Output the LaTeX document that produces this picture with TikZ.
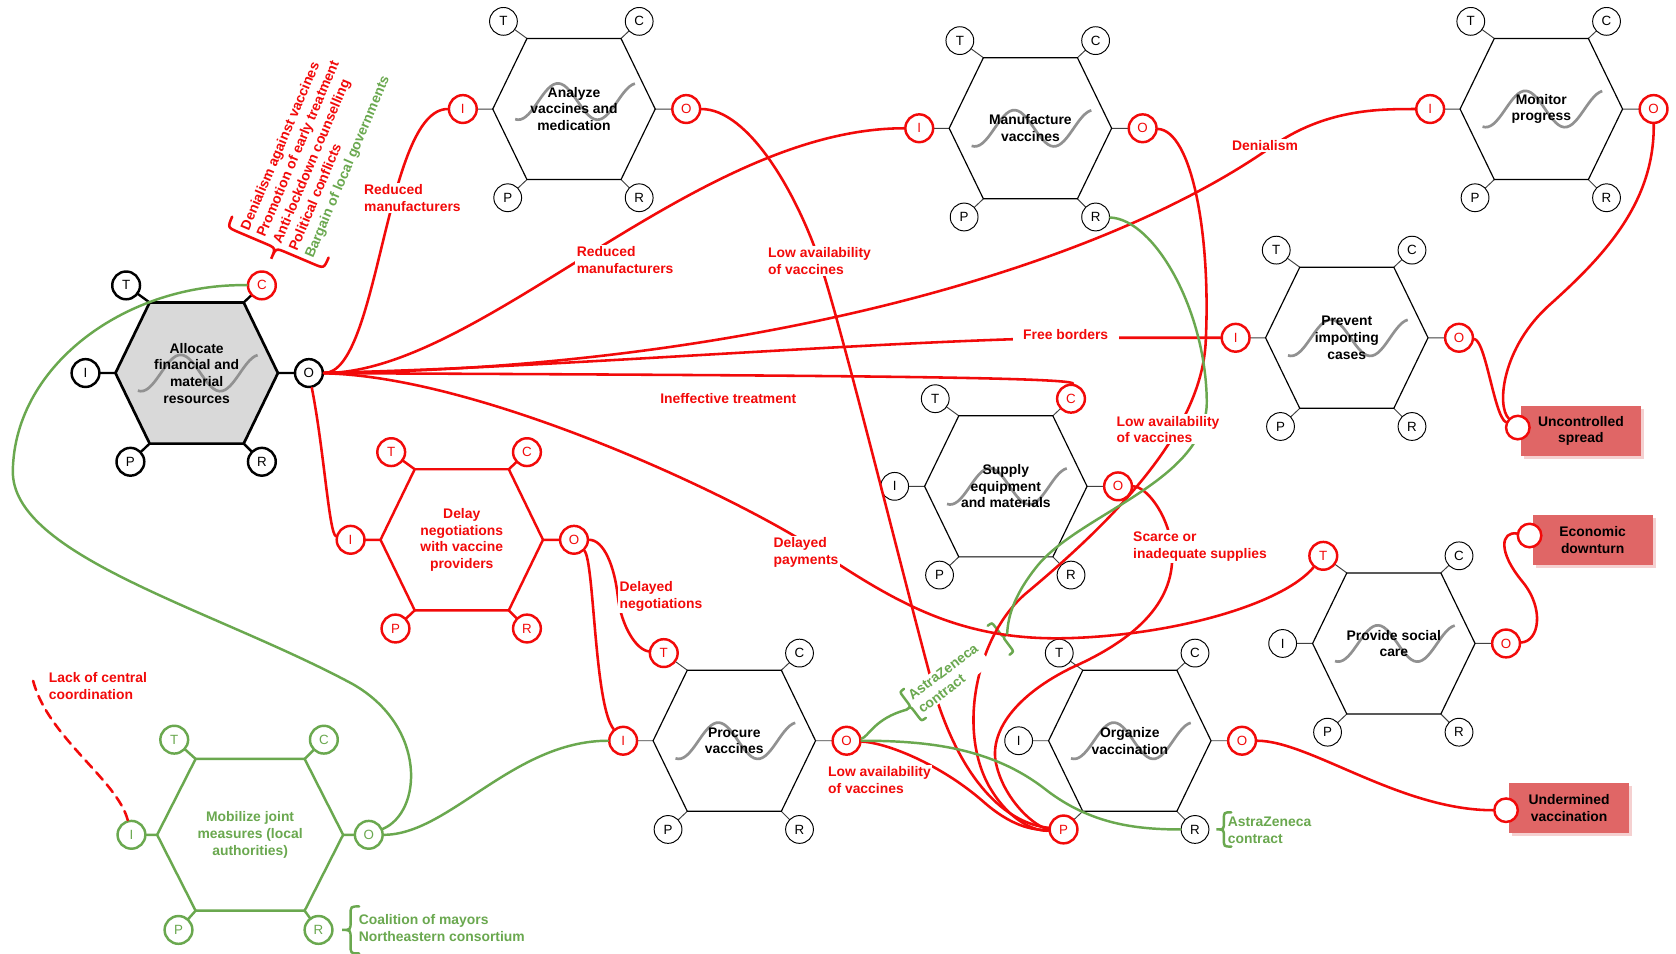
\documentclass[tikz,border=0pt]{standalone}
\usepackage{fontspec}
\setmainfont{Liberation Sans}
\usetikzlibrary{shadows}
\definecolor{fred}{RGB}{242,10,10}
\definecolor{fgreen}{RGB}{106,168,79}
\definecolor{boxred}{RGB}{224,102,102}
\definecolor{hexgrey}{RGB}{217,217,217}
\definecolor{wavegrey}{RGB}{145,145,145}
\def\FRdefault{\def\FRhw{76}\def\FRht{44}\def\FRhh{66}\def\FRtx{-66}\def\FRty{-82}\def\FRcx{61}\def\FRix{-104}\def\FRox{105}\def\FRpx{-62}\def\FRpy{83}\def\FRrx{61}}
\FRdefault
\newcommand\fhex[4]{%
 \begin{scope}[shift={(#2,#3)}]
  \draw[stub, #1-stub/.try] (-\FRht,-\FRhh) -- (\FRtx,\FRty) (\FRht,-\FRhh) -- (\FRcx,\FRty)
    (-\FRhw,0) -- (\FRix,0) (\FRhw,0) -- (\FRox,0) (-\FRht,\FRhh) -- (\FRpx,\FRpy) (\FRht,\FRhh) -- (\FRrx,\FRpy);
  \draw[hexline, #1-hex/.try] (-\FRhw,0) -- (-\FRht,-\FRhh) -- (\FRht,-\FRhh) -- (\FRhw,0) -- (\FRht,\FRhh) -- (-\FRht,\FRhh) -- cycle;
  \draw[wave, #1-wave/.try] plot[domain=-55:57, samples=45, smooth] (\x,{-17*sin((\x+15)*4.865+90)});
  \node[hextext, #1-text/.try] (#1) at (0,0) {#4};
  \node[asp, #1-asp/.try, #1-T/.try] (#1-T) at (\FRtx,\FRty) {T};
  \node[asp, #1-asp/.try, #1-C/.try] (#1-C) at (\FRcx,\FRty) {C};
  \node[asp, #1-asp/.try, #1-I/.try] (#1-I) at (\FRix,0) {I};
  \node[asp, #1-asp/.try, #1-O/.try] (#1-O) at (\FRox,0) {O};
  \node[asp, #1-asp/.try, #1-P/.try] (#1-P) at (\FRpx,\FRpy) {P};
  \node[asp, #1-asp/.try, #1-R/.try] (#1-R) at (\FRrx,\FRpy) {R};
 \end{scope}}
\newcommand\drawbrace[5]{\draw[#5] ({#1+(#4)},{#2-#3}) .. controls ({#1},{#2-#3}) .. ({#1},{#2-#3+abs(#4)}) -- ({#1},{#2-abs(#4)}) .. controls ({#1},{#2}) .. ({#1-(#4)},{#2}) .. controls ({#1},{#2}) .. ({#1},{#2+abs(#4)}) -- ({#1},{#2+#3-abs(#4)}) .. controls ({#1},{#2+#3}) .. ({#1+(#4)},{#2+#3});}
\begin{document}
\begin{tikzpicture}[x=1pt,y=-1pt,
  stub/.style={draw=black!75, line width=0.9pt},
  hexline/.style={draw=black, line width=1.1pt, line join=miter},
  wave/.style={draw=wavegrey, line width=2.5pt},
  hextext/.style={font=\bfseries\fontsize{13}{15.6}\selectfont, align=center, text=black},
  asp/.style={circle, draw=black, line width=0.9pt, fill=white, minimum size=26pt, inner sep=0pt, font=\fontsize{12.5}{14}\selectfont},
  redasp/.style={draw=fred, line width=2.3pt, text=fred},
  lbl/.style={font=\bfseries\fontsize{13}{15.6}\selectfont, text=fred, align=left, inner sep=1.5pt},
  wlbl/.style={lbl, fill=white},
  glbl/.style={lbl, text=fgreen},
  rline/.style={draw=fred, line width=2.4pt, line cap=round},
  gline/.style={draw=fgreen, line width=2.3pt, line cap=round},
  outbox/.style={rectangle, fill=boxred, minimum width=112pt, minimum height=47pt, align=center, font=\bfseries\fontsize{13}{15.6}\selectfont, drop shadow={shadow xshift=3pt, shadow yshift=-3pt, opacity=0.3, fill=boxred}},
  outcirc/.style={circle, draw=fred, line width=2.3pt, fill=white, minimum size=22pt, inner sep=0pt},
  al-hex/.style={fill=hexgrey, line width=2.5pt},
  al-stub/.style={draw=black, line width=2.2pt},
  al-asp/.style={line width=2.3pt},
  al-C/.style={redasp},
  an-I/.style={redasp}, an-O/.style={redasp}, an-wave/.style={yshift=7pt},
  mf-I/.style={redasp}, mf-O/.style={redasp},
  mo-I/.style={redasp}, mo-O/.style={redasp},
  pr-I/.style={redasp}, pr-O/.style={redasp},
  dl-hex/.style={draw=fred, line width=2.3pt}, dl-stub/.style={draw=fred, line width=2.3pt},
  dl-asp/.style={redasp}, dl-wave/.style={draw=none}, dl-text/.style={text=fred},
  su-C/.style={redasp}, su-O/.style={redasp},
  ps-T/.style={redasp}, ps-O/.style={redasp},
  pc-T/.style={redasp}, pc-I/.style={redasp}, pc-O/.style={redasp},
  ov-P/.style={redasp}, ov-O/.style={redasp},
  mj-hex/.style={draw=fgreen, line width=2.3pt}, mj-stub/.style={draw=fgreen, line width=2.3pt},
  mj-asp/.style={draw=fgreen, line width=2.3pt, text=fgreen}, mj-wave/.style={draw=none}, mj-text/.style={text=fgreen}
]
\fill[white] (0,0) rectangle (1568,892);
\useasboundingbox (0,0) rectangle (1568,892);

% ---------- functions ----------
\fhex{al}{184}{349}{Allocate\\financial and\\material\\resources}
\fhex{an}{537}{102}{Analyze\\vaccines and\\medication}
\fhex{mf}{964}{120}{Manufacture\\vaccines}
\fhex{mo}{1442}{102}{Monitor\\progress}
\fhex{pr}{1260}{316}{Prevent\\importing\\cases}
\fhex{dl}{432}{505}{Delay\\negotiations\\with vaccine\\providers}
\fhex{su}{941}{455}{Supply\\equipment\\and materials}
\fhex{ps}{1304}{602}{Provide social\\care}
\fhex{pc}{687}{693}{Procure\\vaccines}
\fhex{ov}{1057}{693}{Organize\\vaccination}
{\def\FRhw{87}\def\FRht{51}\def\FRhh{71}\def\FRtx{-71}\def\FRty{-89}\def\FRcx{69}\def\FRix{-111}\def\FRox{111}\def\FRpx{-67}\def\FRpy{89}\def\FRrx{64}%
\fhex{mj}{234}{781}{Mobilize joint\\measures (local\\authorities)}}

% ---------- outcomes ----------
\node[outbox] (us) at (1479,403) {Uncontrolled\\spread};
\node[outcirc] (us-c) at (1420,400) {};
\node[outbox] (ed) at (1490,505) {Economic\\downturn};
\node[outcirc] (ed-c) at (1431,501) {};
\node[outbox] (uv) at (1468,756) {Undermined\\vaccination};
\node[outcirc] (uv-c) at (1409,758) {};

% ---------- braces with texts ----------
\begin{scope}[shift={(258,232)}, rotate=67]
 \drawbrace{0}{0}{49}{11}{rline}
 \node[lbl, anchor=west, rotate=67, font=\bfseries\fontsize{13}{16.3}\selectfont] (ctx) at (3,0) {Denialism against vaccines\\Promotion of early treatment\\Anti-lockdown counselling\\Political conflicts\\\textcolor{fgreen}{Bargain of local governments}};
\end{scope}
\begin{scope}[shift={(852,661)}, rotate=37]
 \drawbrace{0}{0}{17}{5}{gline}
 \coordinate (az1) at (-5,0);
 \drawbrace{108}{0}{17}{-5}{gline}
 \coordinate (az2) at (113,0);
\end{scope}
\drawbrace{328}{870}{22}{8}{gline}
\drawbrace{1145}{776}{16}{7}{gline}

% ---------- couplings ----------
\draw[rline] (al-O) .. controls (355,349) and (360,102) .. (an-I);
\draw[rline] (al-O) .. controls (450,349) and (650,120) .. (mf-I);
\draw[rline] (al-O) .. controls (700,345) and (1030,250) .. (1190,137) .. controls (1240,102) and (1290,102) .. (mo-I);
\draw[rline] (al-O) .. controls (500,345) and (800,320) .. (997,316) -- (pr-I);
\draw[rline] (al-O) .. controls (700,351) and (1005,352) .. (su-C);
\draw[rline] (al-O) .. controls (450,352) and (690,465) .. (765,515) .. controls (840,565) and (900,600) .. (1000,597) .. controls (1100,594) and (1200,565) .. (ps-T);
\draw[rline] (al-O) .. controls (303,420) and (308,500) .. (dl-I);
\draw[rline] (an-O) .. controls (700,102) and (745,180) .. (767,245) .. controls (790,315) and (850,560) .. (875,650) .. controls (900,730) and (940,770) .. (ov-P);
\draw[rline] (dl-O) .. controls (565,505) and (575,530) .. (578,558) .. controls (581,585) and (595,608) .. (pc-T);
\draw[rline] (dl-O) .. controls (556,525) and (556,660) .. (pc-I);
\draw[gline] (mj-O) .. controls (420,781) and (480,693) .. (pc-I);
\draw[gline] (mj-O) .. controls (395,760) and (400,680) .. (330,640) .. controls (200,570) and (10,520) .. (12,440) .. controls (14,340) and (120,265) .. (al-C);
\draw[rline] (mf-O) .. controls (1115,122) and (1133,220) .. (1128,320) .. controls (1124,400) and (1050,480) .. (960,555) .. controls (915,593) and (895,680) .. (925,735) .. controls (945,770) and (970,778) .. (ov-P);
\draw[rline] (su-O) .. controls (1072,455) and (1092,480) .. (1096,510) .. controls (1101,550) and (1080,590) .. (1004,624) .. controls (950,650) and (925,685) .. (932,715) .. controls (940,750) and (970,775) .. (ov-P);
\draw[rline] (pc-O) .. controls (830,695) and (880,715) .. (920,750) .. controls (945,772) and (965,777) .. (ov-P);
\draw[gline] (pc-O) .. controls (870,693) and (930,700) .. (980,740) .. controls (1020,770) and (1060,776) .. (ov-R);
\draw[gline] (pc-O) .. controls (812,690) and (818,672) .. (az1);
\draw[gline] (mf-R) .. controls (1080,205) and (1128,290) .. (1129,375) .. controls (1130,450) and (1010,480) .. (970,530) .. controls (950,555) and (943,575) .. (az2);
\draw[rline] (ov-O) .. controls (1225,693) and (1310,758) .. (uv-c);
\draw[rline] (ps-O) .. controls (1440,600) and (1445,570) .. (1425,545) .. controls (1400,515) and (1405,497) .. (ed-c);
\draw[rline] (pr-O) .. controls (1390,318) and (1398,390) .. (us-c);
\draw[rline] (mo-O) .. controls (1548,190) and (1500,240) .. (1450,285) .. controls (1405,325) and (1400,380) .. (us-c);
\coordinate (lackend) at (31,637);
\draw[rline, dash pattern=on 9pt off 6pt] (mj-I) .. controls (110,730) and (45,690) .. (lackend);

% ---------- labels ----------
\node[wlbl, anchor=west] (l1) at (339,185) {Reduced\\manufacturers};
\node[wlbl, anchor=west] (l2) at (538,243) {Reduced\\manufacturers};
\node[wlbl, anchor=west] (l3) at (717,244) {Low availability\\of vaccines};
\node[wlbl] (l4) at (1183.5,136) {Denialism};
\node[wlbl, inner xsep=10pt] (l5) at (997,313) {Free borders};
\node[lbl, anchor=west] (l6) at (616,372.5) {Ineffective treatment};
\node[wlbl, anchor=west] (l7) at (1043,401.7) {Low availability\\of vaccines};
\node[wlbl, anchor=west] (l8) at (722,517) {Delayed\\payments};
\node[wlbl, anchor=west] (l9) at (1058.5,511.4) {Scarce or\\inadequate supplies};
\node[wlbl, anchor=west] (l10) at (578,558) {Delayed\\negotiations};
\node[wlbl, anchor=west] (l11) at (773,730) {Low availability\\of vaccines};
\node[lbl, anchor=west] (l12) at (44,641.5) {Lack of central\\coordination};
\node[glbl, anchor=west] (l13) at (1147,776.5) {AstraZeneca\\contract};
\node[glbl, anchor=west] (l14) at (334,868.5) {Coalition of mayors\\Northeastern consortium};
\begin{scope}[shift={(852,661)}, rotate=37]
 \node[glbl, fill=white, anchor=west, rotate=37] (aztext) at (3,0) {AstraZeneca\\contract};
\end{scope}
\end{tikzpicture}
\end{document}
